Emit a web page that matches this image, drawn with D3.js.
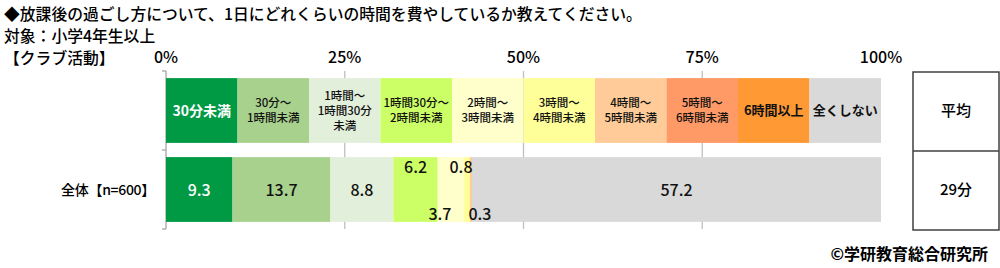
<!DOCTYPE html>
<html><head><meta charset="utf-8">
<script src="https://cdn.jsdelivr.net/npm/d3@7"></script>
<style>
body{margin:0;background:#fff;}
text{font-family:"Noto Sans CJK JP","Noto Sans",sans-serif;}
</style></head>
<body><svg id="c" width="1000" height="268"></svg>
<script>
const titleLines = ["◆放課後の過ごし方について、1日にどれくらいの時間を費やしているか教えてください。","対象：小学4年生以上","【クラブ活動】"];
const categories = ["30分未満","30分～\n1時間未満","1時間～\n1時間30分\n未満","1時間30分～\n2時間未満","2時間～\n3時間未満","3時間～\n4時間未満","4時間～\n5時間未満","5時間～\n6時間未満","6時間以上","全くしない"];
const colors = ["#009944","#a9d18e","#e2efda","#ccff66","#ffffcc","#ffff99","#ffcc99","#ff9966","#ff9933","#d9d9d9"];
const rows = ["", "全体【n=600】"];
const values = [9.3,13.7,8.8,6.2,3.7,0.8,0.3,0,0,57.2];
const averageLabel = "平均";
const averageValue = "29分";
const tickValues = [0,25,50,75,100];
const credit = "©学研教育総合研究所";

const svg = d3.select("#c");
const x = d3.scaleLinear().domain([0,100]).range([166,881]);
const y = d3.scaleBand().domain(rows).range([71,229]).paddingInner(0.18).paddingOuter(0.09);

// title
titleLines.forEach((t,i)=>{
  svg.append("text").attr("x",4).attr("y",[20,42,64][i]).attr("font-size",[15.8,15.8,15.8][i]).attr("font-weight",500).attr("fill","#000").text(t);
});
// tick labels
svg.selectAll(".tk").data(tickValues).join("text")
  .attr("x",d=>x(d)).attr("y",63).attr("text-anchor","middle").attr("font-size",16).attr("font-weight",500).text(d=>d+"%");

// gridlines
svg.selectAll(".gl").data([25,50,75]).join("line")
  .attr("x1",d=>x(d)).attr("x2",d=>x(d)).attr("y1",71).attr("y2",229)
  .attr("stroke","#bfbfbf").attr("stroke-width",1.3);

// axis
const ax = svg.append("g").attr("transform",`translate(${x(0)},0)`);
ax.append("line").attr("x1",0).attr("x2",0).attr("y1",71).attr("y2",229).attr("stroke","#a6a6a6").attr("stroke-width",1.3);
ax.selectAll(".t").data([71,150,229]).join("line").attr("x1",-4).attr("x2",0).attr("y1",d=>d).attr("y2",d=>d).attr("stroke","#a6a6a6").attr("stroke-width",1.3);

// legend row (equal segments)
const yl = y(rows[0]), bh = y.bandwidth();
const step = 100/categories.length;
const lg = svg.append("g");
categories.forEach((c,i)=>{
  const x0 = x(i*step), x1 = x((i+1)*step);
  lg.append("rect").attr("x",x0).attr("y",yl).attr("width",x1-x0).attr("height",bh).attr("fill",colors[i]);
  const lines = c.split("\n");
  const single = lines.length===1;
  const fs = single ? (i===0?14:13) : 11.5;
  const lh = 15;
  const cy = yl + bh/2;
  const t = lg.append("text").attr("x",(x0+x1)/2).attr("text-anchor","middle")
    .attr("font-size",fs).attr("font-weight",single?600:500).attr("fill", i===0?"#fff":"#111");
  lines.forEach((l,j)=>{
    t.append("tspan").attr("x",(x0+x1)/2).attr("y",cy + (j-(lines.length-1)/2)*lh + fs*0.36).text(l);
  });
});

// data row
const yd = y(rows[1]);
let cum = 0;
const segs = values.map((v,i)=>{const s={v,i,x0:cum,x1:cum+v};cum+=v;return s;});
svg.append("g").selectAll("rect").data(segs.filter(s=>s.v>0)).join("rect")
  .attr("x",d=>x(d.x0)).attr("y",yd).attr("width",d=>x(d.x1)-x(d.x0)).attr("height",bh).attr("fill",d=>colors[d.i]);

// value labels
const smallPos = {3:["top",0],4:["bot",-11],5:["top",-6],6:["bot",9]};
svg.append("g").selectAll("text").data(segs.filter(s=>s.v>0)).join("text")
  .attr("x",d=>{const c=(x(d.x0)+x(d.x1))/2; return smallPos[d.i]? c+smallPos[d.i][1] : c;})
  .attr("y",d=>{
    if(smallPos[d.i]) return smallPos[d.i][0]==="top" ? yd+16 : yd+bh-2;
    return yd+bh/2+6;})
  .attr("text-anchor","middle").attr("font-size",16).attr("font-weight",500)
  .attr("fill",d=>d.i===0?"#fff":"#111").text(d=>d.v.toFixed(1));

// row label
svg.append("text").attr("x",155).attr("y",yd+bh/2+5).attr("text-anchor","end").attr("font-size",14).attr("font-weight",500).attr("letter-spacing",-0.3).text(rows[1]);

// average box
svg.append("rect").attr("x",913).attr("y",72).attr("width",86).attr("height",158).attr("fill","none").attr("stroke","#404040").attr("stroke-width",1.5);
svg.append("line").attr("x1",913).attr("x2",999).attr("y1",151).attr("y2",151).attr("stroke","#404040").attr("stroke-width",1.5);
svg.append("text").attr("x",956).attr("y",y(rows[0])+bh/2+5).attr("text-anchor","middle").attr("font-size",15).attr("font-weight",500).text(averageLabel);
svg.append("text").attr("x",956).attr("y",yd+bh/2+5).attr("text-anchor","middle").attr("font-size",15).attr("font-weight",500).text(averageValue);

// credit
svg.append("text").attr("x",988).attr("y",260).attr("text-anchor","end").attr("font-size",16).attr("font-weight",700).text(credit);
</script></body></html>
